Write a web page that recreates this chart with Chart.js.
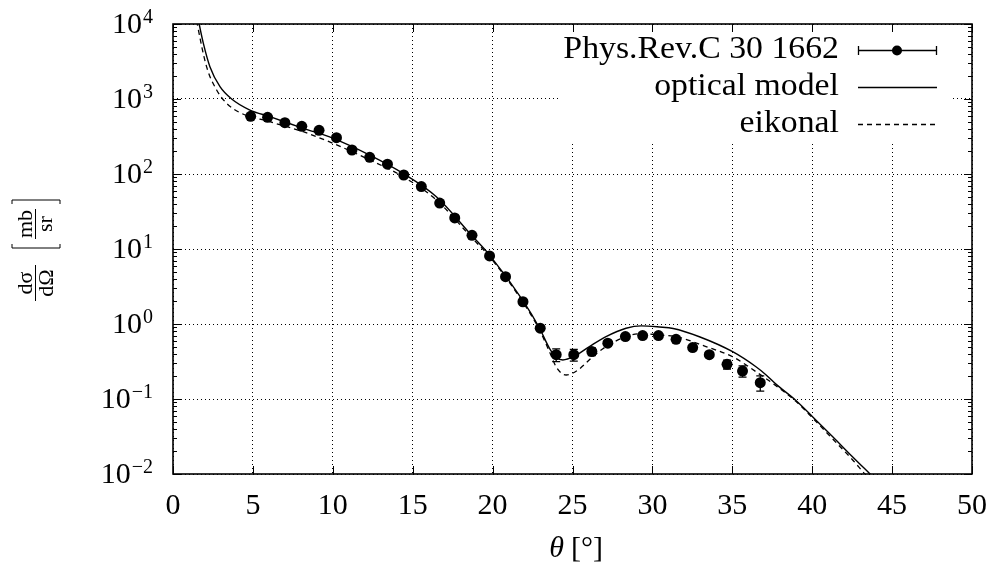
<!DOCTYPE html>
<html>
<head>
<meta charset="utf-8">
<script src="https://cdn.jsdelivr.net/npm/chart.js@4.4.0/dist/chart.umd.min.js"></script>
<style>
  html, body { margin: 0; padding: 0; background: #fff; }
  #wrap { width: 991px; height: 570px; position: relative; }
</style>
</head>
<body>
<div id="wrap"><canvas id="xsChart"></canvas></div>
<script>
// measured points, Phys.Rev.C 30 1662
const expTheta = [4.86, 5.92, 7.0, 8.06, 9.14, 10.23, 11.2, 12.31, 13.42, 14.44, 15.54, 16.69, 17.63, 18.71, 19.81, 20.81, 21.9, 22.98, 23.98, 25.08, 26.21, 27.21, 28.31, 29.39, 30.38, 31.48, 32.52, 33.56, 34.67, 35.64, 36.75];
const expSigma = [588, 570, 483, 432, 382, 305, 209, 167, 135, 97, 68, 41, 26, 15.2, 8.07, 4.27, 1.98, 0.88, 0.39, 0.39, 0.43, 0.555, 0.68, 0.70, 0.70, 0.625, 0.485, 0.39, 0.29, 0.236, 0.165];
const expErr = [20, 20, 17, 15, 13, 10, 7, 6, 5, 3.5, 2.5, 1.5, 1, 0.6, 0.3, 0.17, 0.08, 0.05, 0.075, 0.07, 0.05, 0.04, 0.04, 0.04, 0.04, 0.035, 0.03, 0.03, 0.04, 0.04, 0.038];

// optical model curve
const omTheta = [1.3, 1.64, 1.9, 2.31, 2.94, 3.67, 4.81, 6.06, 8.15, 10.02, 12.31, 14.4, 16.48, 18.7, 19.81, 21.9, 22.94, 23.56, 24.0, 24.4, 25.1, 26.06, 27.1, 28.35, 29.3, 30.44, 31.3, 32.94, 35.02, 36.48, 37.1, 37.73, 38.98, 40.02, 41.27, 42.52, 43.77, 45];
const omSigma = [25000, 10000, 5530, 2700, 1460, 1000, 713, 581, 406, 299, 179, 102, 49.8, 15.1, 8.3, 2.05, 0.877, 0.474, 0.355, 0.331, 0.37, 0.50, 0.678, 0.877, 0.944, 0.912, 0.871, 0.676, 0.427, 0.269, 0.211, 0.158, 0.0955, 0.0582, 0.0316, 0.0170, 0.0093, 0.0051];

// eikonal curve
const eikTheta = [1.2, 1.52, 2.1, 2.73, 3.35, 4.19, 6.06, 8.15, 10.02, 12.31, 14.4, 16.48, 18.7, 19.81, 21.9, 22.94, 23.56, 24.0, 24.6, 25.3, 26.27, 27.1, 28.35, 29.3, 30.44, 31.5, 33.35, 35.02, 36.48, 37.52, 38.98, 40.02, 41.27, 42.52, 43.35, 44.5];
const eikSigma = [25000, 10000, 2700, 1320, 877, 658, 498, 366, 256, 154, 92, 45, 14.1, 7.9, 1.95, 0.83, 0.427, 0.263, 0.209, 0.24, 0.366, 0.50, 0.678, 0.745, 0.713, 0.676, 0.50, 0.366, 0.231, 0.162, 0.093, 0.056, 0.0295, 0.0155, 0.0097, 0.0053];

const xTicks = [0, 5, 10, 15, 20, 25, 30, 35, 40, 45, 50];
const yTickExp = [-2, -1, 0, 1, 2, 3, 4];
const legendLabels = ['Phys.Rev.C 30 1662', 'optical model', 'eikonal'];

const serif = "'Liberation Serif', 'DejaVu Serif', serif";

function pairs(xs, ys) {
  return xs.map(function (x, i) { return { x: x, y: ys[i] }; });
}

var framePlugin = {
  id: 'frame',
  beforeDatasetsDraw: function (chart) {
    const ctx = chart.ctx;
    const a = chart.chartArea;
    const xs = chart.scales.x;
    const ys = chart.scales.y;
    ctx.save();

    // legend box hides the grid behind it
    ctx.fillStyle = '#fff';
    ctx.fillRect(558, a.top + 1, 395, 116);

    ctx.strokeStyle = '#000';
    ctx.lineWidth = 1;
    ctx.beginPath();
    xTicks.forEach(function (t) {
      const px = Math.round(xs.getPixelForValue(t)) + 0.5;
      ctx.moveTo(px, a.bottom); ctx.lineTo(px, a.bottom - 8);
      ctx.moveTo(px, a.top); ctx.lineTo(px, a.top + 8);
    });
    yTickExp.forEach(function (e) {
      const py = Math.round(ys.getPixelForValue(Math.pow(10, e))) + 0.5;
      ctx.moveTo(a.left, py); ctx.lineTo(a.left + 8, py);
      ctx.moveTo(a.right, py); ctx.lineTo(a.right - 8, py);
      if (e < 4) {
        for (var m = 2; m <= 9; m++) {
          const pm = Math.round(ys.getPixelForValue(m * Math.pow(10, e))) + 0.5;
          ctx.moveTo(a.left, pm); ctx.lineTo(a.left + 4, pm);
          ctx.moveTo(a.right, pm); ctx.lineTo(a.right - 4, pm);
        }
      }
    });
    ctx.stroke();

    ctx.lineWidth = 1.6;
    ctx.strokeRect(a.left, a.top, a.right - a.left, a.bottom - a.top);

    // x tick labels
    ctx.fillStyle = '#000';
    ctx.font = '30px ' + serif;
    ctx.textAlign = 'center';
    ctx.textBaseline = 'alphabetic';
    xTicks.forEach(function (t) {
      ctx.fillText(String(t), xs.getPixelForValue(t), a.bottom + 40);
    });

    // y tick labels 10^n
    yTickExp.forEach(function (e) {
      const py = ys.getPixelForValue(Math.pow(10, e));
      const sup = e < 0 ? '\u2212' + Math.abs(e) : String(e);
      ctx.font = '20px ' + serif;
      const wSup = ctx.measureText(sup).width;
      ctx.font = '30px ' + serif;
      const wBase = ctx.measureText('10').width;
      const right = a.left - 20;
      ctx.textAlign = 'left';
      ctx.fillText('10', right - wSup - wBase - 1, py + 8.5);
      ctx.font = '20px ' + serif;
      ctx.fillText(sup, right - wSup, py - 1.5);
    });

    // x axis title
    ctx.font = 'italic 30px ' + serif;
    ctx.textAlign = 'right';
    ctx.fillText('\u03b8', 564, 557);
    ctx.font = '30px ' + serif;
    ctx.textAlign = 'left';
    ctx.fillText('[\u00b0]', 571, 557);

    // y axis title, rotated fractions
    ctx.save();
    ctx.translate(35, 283);
    ctx.rotate(-Math.PI / 2);
    ctx.font = '22px ' + serif;
    ctx.textAlign = 'center';
    ctx.fillText('d\u03c3', 0, -3);
    ctx.fillText('d\u03a9', 0, 18);
    ctx.lineWidth = 1;
    ctx.beginPath();
    ctx.moveTo(-18, 0.5); ctx.lineTo(18, 0.5);
    ctx.stroke();
    ctx.restore();

    ctx.save();
    ctx.translate(35, 224);
    ctx.rotate(-Math.PI / 2);
    ctx.font = '22px ' + serif;
    ctx.textAlign = 'center';
    ctx.fillText('mb', 0, -3);
    ctx.fillText('sr', 0, 17);
    ctx.lineWidth = 1;
    ctx.beginPath();
    ctx.moveTo(-15, 0.5); ctx.lineTo(15, 0.5);
    ctx.moveTo(-20, -23); ctx.lineTo(-24, -23); ctx.lineTo(-24, 25); ctx.lineTo(-20, 25);
    ctx.moveTo(20, -23); ctx.lineTo(24, -23); ctx.lineTo(24, 25); ctx.lineTo(20, 25);
    ctx.stroke();
    ctx.restore();

    // legend (text widened a little toward the reference typeface)
    const rows = [50, 87, 124];
    ctx.font = '31px ' + serif;
    ctx.textAlign = 'right';
    legendLabels.forEach(function (lab, i) {
      ctx.save();
      ctx.translate(839, rows[i] + 7.5);
      ctx.scale(1.09, 1);
      ctx.fillText(lab, 0, 0);
      ctx.restore();
    });
    ctx.lineWidth = 1.3;
    ctx.beginPath();
    ctx.moveTo(858, rows[0] + 0.5); ctx.lineTo(937, rows[0] + 0.5);
    ctx.moveTo(858.5, rows[0] - 4); ctx.lineTo(858.5, rows[0] + 5);
    ctx.moveTo(936.5, rows[0] - 4); ctx.lineTo(936.5, rows[0] + 5);
    ctx.moveTo(858, rows[1] + 0.5); ctx.lineTo(937, rows[1] + 0.5);
    ctx.stroke();
    ctx.beginPath();
    ctx.arc(897, rows[0] + 0.5, 5, 0, Math.PI * 2);
    ctx.fill();
    ctx.setLineDash([5, 4]);
    ctx.beginPath();
    ctx.moveTo(858, rows[2] + 0.5); ctx.lineTo(937, rows[2] + 0.5);
    ctx.stroke();
    ctx.restore();
  },
  afterDatasetsDraw: function (chart) {
    const ctx = chart.ctx;
    const xs = chart.scales.x;
    const ys = chart.scales.y;
    ctx.save();
    ctx.strokeStyle = '#000';
    ctx.lineWidth = 1.3;
    ctx.beginPath();
    expTheta.forEach(function (t, i) {
      const px = xs.getPixelForValue(t);
      const hi = ys.getPixelForValue(expSigma[i] + expErr[i]);
      const lo = ys.getPixelForValue(expSigma[i] - expErr[i]);
      ctx.moveTo(px, hi); ctx.lineTo(px, lo);
      ctx.moveTo(px - 4, hi); ctx.lineTo(px + 4, hi);
      ctx.moveTo(px - 4, lo); ctx.lineTo(px + 4, lo);
    });
    ctx.stroke();
    ctx.restore();
  }
};

var ctx1 = document.getElementById('xsChart');
const xsChart = new Chart(ctx1, {
  type: 'scatter',
  data: {
    datasets: [{
      label: legendLabels[0],
      data: pairs(expTheta, expSigma),
      showLine: false,
      pointRadius: 5.5,
      pointBackgroundColor: '#000',
      pointBorderColor: '#000',
      pointBorderWidth: 0
    }, {
      label: legendLabels[1],
      data: pairs(omTheta, omSigma),
      showLine: true,
      pointRadius: 0,
      borderColor: '#000',
      borderWidth: 1.4,
      cubicInterpolationMode: 'monotone'
    }, {
      label: legendLabels[2],
      data: pairs(eikTheta, eikSigma),
      showLine: true,
      pointRadius: 0,
      borderColor: '#000',
      borderWidth: 1.3,
      borderDash: [5, 4],
      cubicInterpolationMode: 'monotone'
    }]
  },
  options: {
    responsive: true,
    maintainAspectRatio: false,
    animation: false,
    events: [],
    layout: {
      padding: { left: 173, right: 19, top: 24, bottom: 96 }
    },
    plugins: {
      legend: { display: false },
      tooltip: { enabled: false }
    },
    scales: {
      x: {
        type: 'linear',
        min: 0,
        max: 50,
        afterBuildTicks: function (scale) {
          scale.ticks = xTicks.map(function (v) { return { value: v }; });
        },
        ticks: { display: false },
        grid: { color: '#000', lineWidth: 1, drawTicks: false },
        border: { display: false, dash: [1, 3] }
      },
      y: {
        type: 'logarithmic',
        min: 0.01,
        max: 10000,
        afterBuildTicks: function (scale) {
          scale.ticks = yTickExp.map(function (e) { return { value: Math.pow(10, e) }; });
        },
        ticks: { display: false },
        grid: { color: '#000', lineWidth: 1, drawTicks: false },
        border: { display: false, dash: [1, 3] }
      }
    }
  },
  plugins: [framePlugin]
});
</script>
</body>
</html>
